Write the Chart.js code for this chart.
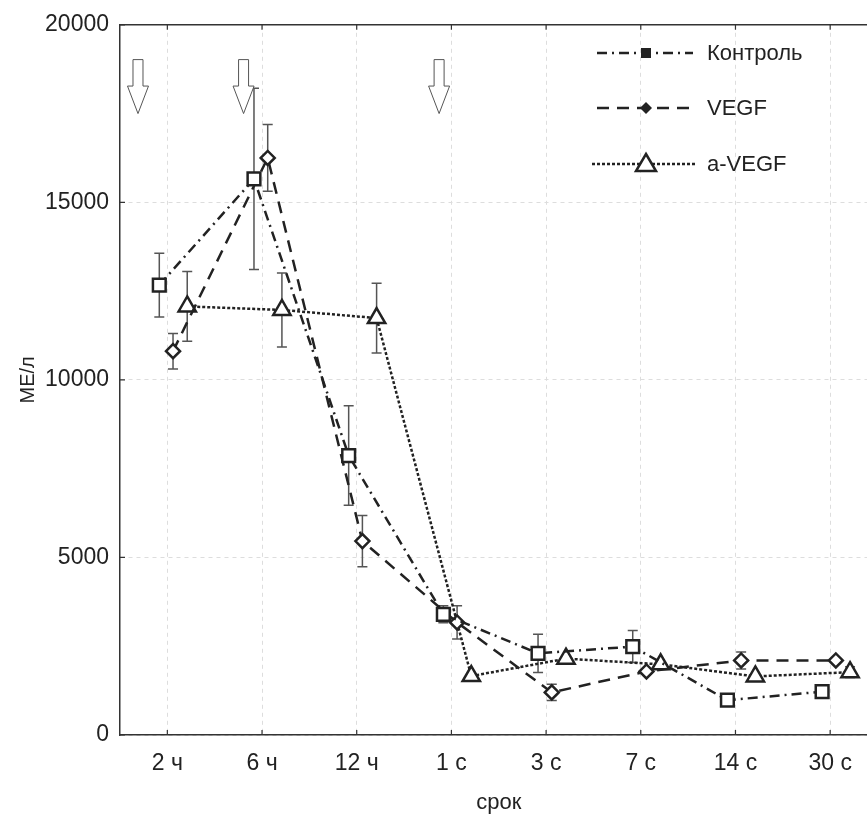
<!DOCTYPE html>
<html>
<head>
<meta charset="utf-8">
<script src="https://cdn.jsdelivr.net/npm/chart.js@4.4.1/dist/chart.umd.min.js"></script>
<style>
    html, body { margin: 0; padding: 0; background: #fff; overflow: hidden; }
    #wrap { width: 867px; height: 816px; overflow: hidden; }
</style>
</head>
<body>
<div id="wrap"><canvas id="chart" width="890" height="816"></canvas></div>
<script>
const categories = ['2 ч', '6 ч', '12 ч', '1 с', '3 с', '7 с', '14 с', '30 с'];
const seriesNames = ['Контроль', 'VEGF', 'a-VEGF'];

const control = [12670, 15660, 7870, 3400, 2300, 2490, 980, 1220];
const controlErr = [900, 2550, 1400, 240, 540, 450, 0, 0];

const vegf = [10810, 16250, 5460, 3170, 1200, 1790, 2100, 2100];
const vegfErr = [500, 940, 720, 470, 230, 0, 240, 0];

const aVegf = [12070, 11970, 11740, 1660, 2150, 1990, 1650, 1770];
const aVegfErr = [980, 1040, 980, 0, 0, 0, 0, 150];

const yTicks = [0, 5000, 10000, 15000, 20000];
// arrows above the plot, in category units
const arrowAt = [-0.31, 0.805, 2.87];

const FONT = "'Liberation Sans', Arial, sans-serif";
const INK = '#222';

// small horizontal shift of each series inside a category
const shift = [-0.085, 0.06, 0.21];

function toPoints(values, k) {
    return values.map((v, i) => ({ x: i + shift[k], y: v }));
}

const styles = [
    { dash: [10, 5, 2, 5], pointStyle: 'rect', radius: 9 },
    { dash: [12, 8], pointStyle: 'rectRot', radius: 7 },
    { dash: [3, 2], pointStyle: 'triangle', radius: 10 }
];

const errors = [controlErr, vegfErr, aVegfErr];

const datasets = [control, vegf, aVegf].map((values, k) => ({
    label: seriesNames[k],
    data: toPoints(values, k),
    showLine: true,
    borderColor: INK,
    borderWidth: 2.5,
    borderDash: styles[k].dash,
    tension: 0,
    pointStyle: styles[k].pointStyle,
    pointRadius: styles[k].radius,
    pointHoverRadius: styles[k].radius,
    pointBackgroundColor: '#fff',
    pointBorderColor: INK,
    pointBorderWidth: 2.5
}));

const errorBars = {
    id: 'errorBars',
    beforeDatasetsDraw(chart) {
        const ctx = chart.ctx;
        const xs = chart.scales.x, ys = chart.scales.y;
        ctx.save();
        ctx.strokeStyle = '#555';
        ctx.lineWidth = 1.5;
        ctx.setLineDash([]);
        datasets.forEach((ds, k) => {
            ds.data.forEach((p, i) => {
                const e = errors[k][i];
                if (!e) return;
                const x = xs.getPixelForValue(p.x);
                const y1 = ys.getPixelForValue(p.y + e);
                const y2 = ys.getPixelForValue(p.y - e);
                ctx.beginPath();
                ctx.moveTo(x, y1); ctx.lineTo(x, y2);
                ctx.moveTo(x - 5, y1); ctx.lineTo(x + 5, y1);
                ctx.moveTo(x - 5, y2); ctx.lineTo(x + 5, y2);
                ctx.stroke();
            });
        });
        ctx.restore();
    }
};

const frame = {
    id: 'frame',
    afterDraw(chart) {
        const ctx = chart.ctx;
        const a = chart.chartArea;
        const xs = chart.scales.x, ys = chart.scales.y;
        ctx.save();
        ctx.setLineDash([]);
        ctx.strokeStyle = '#333';
        ctx.lineWidth = 1.5;
        ctx.beginPath();
        ctx.moveTo(a.left, a.top); ctx.lineTo(a.right, a.top);
        ctx.stroke();
        // inward ticks
        ctx.lineWidth = 1.2;
        ctx.beginPath();
        categories.forEach((c, i) => {
            const x = xs.getPixelForValue(i);
            ctx.moveTo(x, a.bottom); ctx.lineTo(x, a.bottom - 5);
            ctx.moveTo(x, a.top); ctx.lineTo(x, a.top + 5);
        });
        yTicks.forEach(v => {
            const y = ys.getPixelForValue(v);
            ctx.moveTo(a.left, y); ctx.lineTo(a.left + 5, y);
        });
        ctx.stroke();

        // hollow arrows
        ctx.strokeStyle = '#555';
        ctx.lineWidth = 1;
        ctx.fillStyle = '#fff';
        arrowAt.forEach(v => {
            const x = xs.getPixelForValue(v);
            const top = ys.getPixelForValue(19020);
            const tip = ys.getPixelForValue(17500);
            const neck = top + (tip - top) * 0.49;
            ctx.beginPath();
            ctx.moveTo(x - 5, top);
            ctx.lineTo(x + 5, top);
            ctx.lineTo(x + 5, neck);
            ctx.lineTo(x + 10.5, neck);
            ctx.lineTo(x, tip);
            ctx.lineTo(x - 10.5, neck);
            ctx.lineTo(x - 5, neck);
            ctx.closePath();
            ctx.fill();
            ctx.stroke();
        });

        // legend
        const rows = [53, 108, 164];
        ctx.font = '22px ' + FONT;
        ctx.textBaseline = 'middle';
        ctx.textAlign = 'left';
        rows.forEach((y, k) => {
            ctx.strokeStyle = INK;
            ctx.lineWidth = 2.5;
            ctx.setLineDash(styles[k].dash);
            ctx.beginPath();
            ctx.moveTo(k === 2 ? 592 : 597, y);
            ctx.lineTo(k === 2 ? 697 : 693, y);
            ctx.stroke();
            ctx.setLineDash([]);
            const mx = 646;
            ctx.fillStyle = INK;
            ctx.beginPath();
            if (k === 0) {
                ctx.rect(mx - 5, y - 5, 10, 10);
                ctx.fill();
            } else if (k === 1) {
                ctx.moveTo(mx - 6, y); ctx.lineTo(mx, y - 6);
                ctx.lineTo(mx + 6, y); ctx.lineTo(mx, y + 6);
                ctx.closePath();
                ctx.fill();
            } else {
                ctx.moveTo(mx, y - 10); ctx.lineTo(mx + 10, y + 7);
                ctx.lineTo(mx - 10, y + 7);
                ctx.closePath();
                ctx.fillStyle = '#fff';
                ctx.fill();
                ctx.lineWidth = 2.5;
                ctx.stroke();
            }
            ctx.fillStyle = INK;
            ctx.fillText(seriesNames[k], 707, y + 1);
        });
        ctx.restore();
    }
};

new Chart(document.getElementById('chart'), {
    type: 'scatter',
    data: { datasets },
    options: {
        responsive: false,
        devicePixelRatio: 1,
        animation: false,
        layout: { padding: { top: 23, right: 10, left: 0, bottom: 0 } },
        plugins: {
            legend: { display: false },
            tooltip: { enabled: false }
        },
        scales: {
            x: {
                type: 'linear',
                min: -0.5,
                max: 7.5,
                afterBuildTicks: axis => {
                    axis.ticks = categories.map((c, i) => ({ value: i }));
                },
                afterFit: s => { s.height = 81; },
                ticks: {
                    callback: v => categories[v],
                    font: { family: FONT, size: 23 },
                    color: INK,
                    padding: 15,
                    maxRotation: 0,
                    autoSkip: false
                },
                grid: { color: '#ddd', drawTicks: false, lineWidth: 1 },
                border: { display: true, color: '#333', width: 1.5, dash: [4, 4] },
                title: {
                    display: true,
                    text: 'срок',
                    font: { family: FONT, size: 22 },
                    color: INK,
                    padding: { top: 0, bottom: 0 }
                }
            },
            y: {
                min: 0,
                max: 20000,
                afterBuildTicks: axis => {
                    axis.ticks = yTicks.map(v => ({ value: v }));
                },
                afterFit: s => { s.width = 120; },
                ticks: {
                    callback: v => String(v),
                    font: { family: FONT, size: 23 },
                    color: INK,
                    padding: 11
                },
                grid: { color: '#ddd', drawTicks: false, lineWidth: 1 },
                border: { display: true, color: '#333', width: 1.5, dash: [4, 4] },
                title: {
                    display: true,
                    text: 'МЕ/л',
                    font: { family: FONT, size: 20 },
                    color: INK,
                    padding: { top: 16, bottom: 0 }
                }
            }
        }
    },
    plugins: [errorBars, frame]
});
</script>
</body>
</html>
